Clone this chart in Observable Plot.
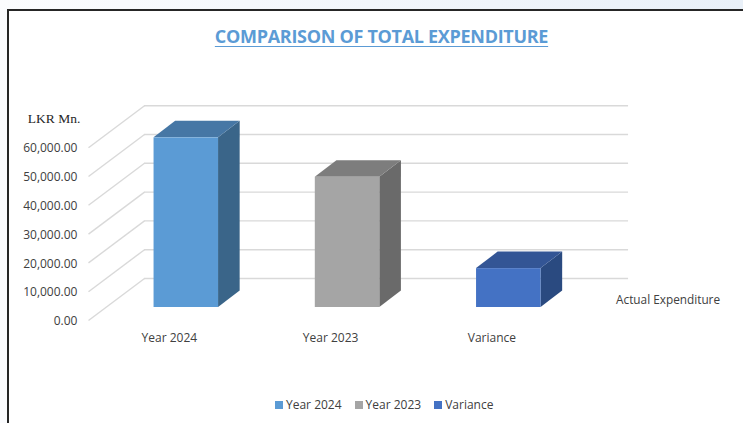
<!DOCTYPE html>
<html>
<head>
<meta charset="utf-8">
<script src="https://cdn.jsdelivr.net/npm/d3@7"></script>
<script src="https://cdn.jsdelivr.net/npm/@observablehq/plot@0.6"></script>
<style>
html,body{margin:0;padding:0;width:743px;height:423px;overflow:hidden;background:linear-gradient(90deg,#fbfcfe,#e9f0f8);}
#frame{position:absolute;left:7px;top:9px;width:736px;height:414px;background:#fff;border-left:2px solid #262626;border-top:2px solid #262626;box-sizing:border-box;}
#title{position:absolute;left:0;width:763px;top:24px;text-align:center;font:700 18px "Open Sans",sans-serif;letter-spacing:-0.3px;color:#5b9bd5;text-decoration:underline;text-underline-offset:3px;line-height:24px;}
#chart{position:absolute;left:0;top:0;}
#legend{position:absolute;left:275px;top:396px;}
#legend svg{margin-right:3px !important;}
#legend span{margin-right:13px !important;}
</style>
</head>
<body>
<div id="frame"></div>
<div id="chart"></div>
<div id="title">COMPARISON OF TOTAL EXPENDITURE</div>
<div id="legend"></div>
<script>
const categories = ["Year 2024", "Year 2023", "Variance"];
const values = [58900, 45250, 13500];
const frontColors = ["#5b9bd5", "#a5a5a5", "#4472c4"];
const topColors = ["#4677a5", "#7d7d7d", "#335595"];
const sideColors = ["#3a6589", "#6a6a6a", "#2a4a80"];
const gridValues = [0, 10000, 20000, 30000, 40000, 50000, 60000];
const tickLabels = ["0.00", "10,000.00", "20,000.00", "30,000.00", "40,000.00", "50,000.00", "60,000.00"];

// Oblique-projection constants, in scale units
const halfBar = 0.2, depthX = 0.134, depthY = 5730;
const gridFrontX = -0.6065, gridBackX = -0.2592, gridRightX = 2.7427;
const gridFrontDy = -4514, gridBackDy = 10069;

const bars = categories.map((c, i) => ({c, i, v: values[i]}));
const side = bars.flatMap(d => [0, 1].map(t => ({
  c: d.c,
  x: d.i + halfBar + t * depthX,
  y1: t * depthY,
  y2: d.v + t * depthY
})));
const top3d = bars.flatMap(d => [0, 1].map(t => ({
  c: d.c,
  y: d.v + t * depthY,
  x1: d.i - halfBar + t * depthX,
  x2: d.i + halfBar + t * depthX
})));
const sideColor = d3.scaleOrdinal(categories, sideColors);
const topColor = d3.scaleOrdinal(categories, topColors);

const chart = Plot.plot({
  width: 743,
  height: 423,
  margin: 0,
  style: {background: "transparent", overflow: "visible"},
  x: {domain: [0, 2], range: [185.8, 508.3], axis: null},
  y: {domain: [0, 60000], range: [307, 134.2], axis: null},
  color: {domain: categories, range: frontColors},
  marks: [
    Plot.link(gridValues, {
      x1: gridFrontX, x2: gridBackX,
      y1: d => d + gridFrontDy, y2: d => d + gridBackDy,
      stroke: "#d9d9d9", strokeWidth: 1.4
    }),
    Plot.ruleY(gridValues, {
      x1: gridBackX, x2: gridRightX,
      y: d => d + gridBackDy,
      stroke: "#d9d9d9", strokeWidth: 1.4
    }),
    Plot.areaY(side, {x: "x", y1: "y1", y2: "y2", z: "c", fill: d => sideColor(d.c)}),
    Plot.areaX(top3d, {y: "y", x1: "x1", x2: "x2", z: "c", fill: d => topColor(d.c)}),
    Plot.rectY(bars, {
      x1: d => d.i - halfBar, x2: d => d.i + halfBar,
      y1: 0, y2: "v", fill: "c", inset: 0
    }),
    Plot.text(gridValues, {
      x: -0.675, y: d => d + gridFrontDy - 300,
      text: (d, i) => tickLabels[i],
      textAnchor: "end", fontSize: 12, fontFamily: "Open Sans", fill: "#404040"
    }),
    Plot.text(bars, {
      x: d => d.i - 0.105, y: -10760, text: "c",
      fontSize: 12, fontFamily: "Open Sans", fill: "#404040"
    }),
    Plot.text(["Actual Expenditure"], {
      x: 2.665, y: 2430, text: d => d, textAnchor: "start",
      fontSize: 11.8, fontFamily: "Open Sans", fill: "#404040"
    }),
    Plot.text(["LKR Mn."], {
      x: -0.657, y: 65625, text: d => d, textAnchor: "end",
      fontSize: 13.5, fontFamily: "Liberation Serif", fill: "#262626"
    })
  ]
});
document.getElementById("chart").append(chart);

const legend = Plot.legend({
  color: {domain: categories, range: frontColors},
  legend: "swatches",
  swatchSize: 8,
  style: {fontFamily: "Open Sans", fontSize: "12px", color: "#404040", marginBottom: 0, minHeight: 0}
});
document.getElementById("legend").append(legend);
</script>
</body>
</html>
